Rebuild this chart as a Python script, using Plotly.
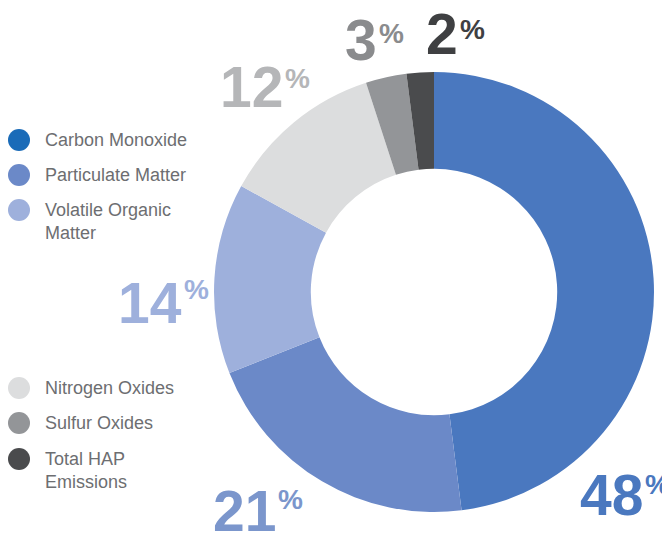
import plotly.graph_objects as go

W, H = 670, 534
OFF = 8  # page body margin of the browser

categories = ["Carbon Monoxide", "Particulate Matter", "Volatile Organic<br>Matter",
              "Nitrogen Oxides", "Sulfur Oxides", "Total HAP<br>Emissions"]
values = [48, 21, 14, 12, 3, 2]
slice_colors = ["#4a78bf", "#6b89c8", "#9eb0dc", "#dcddde", "#939598", "#4a4b4d"]
legend_colors = ["#1a6bb8", "#6b89c8", "#9eb0dc", "#dcddde", "#939598", "#4a4b4d"]
label_colors = ["#4a78bf", "#7b96cc", "#9eb0dc", "#b5b6b8", "#8a8b8d", "#3f4042"]

# label placement (pixels): right edge of digits / centre y of digits, % centre y
label_pos = [(645, 495, 484), (278, 511, 499), (184, 303, 289),
             (285, 87, 78), (379, 40, 33), (460, 34, 30)]
legend_y = [140, 175, 210, 388, 423, 459]

FONT = "Liberation Sans"


def px(x):
    return (x - OFF) / W


def py(y):
    return 1 - (y - OFF) / H


fig = go.Figure()
fig.add_trace(go.Pie(
    values=values, labels=categories, sort=False, direction="clockwise", rotation=0,
    hole=0.56, marker=dict(colors=slice_colors, line=dict(width=0)),
    textinfo="none", hoverinfo="skip", showlegend=False,
    domain=dict(x=[px(214), px(654)], y=[py(512), py(72)]),
))

annotations = []
shapes = []
for v, c, (xr, yc, yp) in zip(values, label_colors, label_pos):
    annotations.append(dict(text=f"<b>{v}</b>", x=px(xr), y=py(yc), xref="paper", yref="paper",
                            xanchor="right", yanchor="middle", showarrow=False,
                            font=dict(family=FONT, size=57, color=c)))
    annotations.append(dict(text="<b>%</b>", x=px(xr - 2), y=py(yp), xref="paper", yref="paper",
                            xanchor="left", yanchor="middle", showarrow=False,
                            font=dict(family=FONT, size=28, color=c)))

for lab, c, y in zip(categories, legend_colors, legend_y):
    r = 11
    shapes.append(dict(type="circle", xref="paper", yref="paper",
                       x0=px(19 - r), x1=px(19 + r), y0=py(y + r), y1=py(y - r),
                       fillcolor=c, line=dict(width=0)))
    annotations.append(dict(text=lab, x=px(43), y=py(y - 12), xref="paper", yref="paper",
                            xanchor="left", yanchor="top", align="left", showarrow=False,
                            font=dict(family=FONT, size=18, color="#6d6e71")))

fig.update_layout(width=W, height=H, margin=dict(l=0, r=0, t=0, b=0),
                  paper_bgcolor="white", plot_bgcolor="white",
                  annotations=annotations, shapes=shapes, showlegend=False)
fig.write_html("out.html")
